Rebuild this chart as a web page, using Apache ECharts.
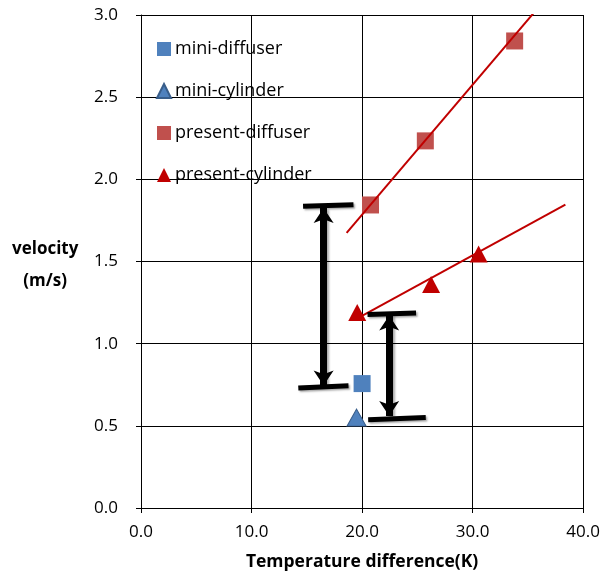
<!DOCTYPE html>
<html><head><meta charset="utf-8">
<script src="https://cdn.jsdelivr.net/npm/echarts@6/dist/echarts.min.js"></script>
<style>html,body{margin:0;padding:0;background:#fff}#c{width:603px;height:576px}</style>
</head><body><div id="c"></div>
<script>
const xTicks = [0, 10, 20, 30, 40];
const yTicks = [0, 0.5, 1.0, 1.5, 2.0, 2.5, 3.0];
const miniDiffuser = [[20.0, 0.757]];
const miniCylinder = [[19.5, 0.55]];
const presentDiffuser = [[20.76, 1.844], [25.72, 2.234], [33.8, 2.842]];
const presentCylinder = [[19.56, 1.19], [26.24, 1.36], [30.54, 1.545]];
const trendDiffuser = [[18.6, 1.674], [35.53, 3.013]];
const trendCylinder = [[20.03, 1.170], [38.39, 1.846]];
// annotation bars (caps) and arrows
const capBars = [
  [[14.66, 1.836], [19.22, 1.846]],
  [[14.23, 0.730], [18.77, 0.744]],
  [[20.49, 1.178], [24.88, 1.187]],
  [[20.55, 0.537], [25.76, 0.551]]
];
const arrows = [
  [[16.52, 1.825], [16.52, 0.745]],
  [[22.45, 1.172], [22.45, 0.560]]
];

const chart = echarts.init(document.getElementById('c'));
const FONT = 'Open Sans';
const shadow = {shadowColor:'rgba(0,0,0,0.35)', shadowBlur:2, shadowOffsetX:1.5, shadowOffsetY:1.5};
const series = [
  {name:'mini-diffuser', type:'scatter', symbol:'rect', symbolSize:17, data:miniDiffuser,
   itemStyle:{color:'#4F81BD', opacity:1}, z:3},
  {name:'mini-cylinder', type:'scatter', symbol:'triangle', symbolSize:[19,17], data:miniCylinder,
   itemStyle:{color:'#4F81BD', borderColor:'#385D8A', borderWidth:1, opacity:1}, z:3},
  {name:'present-diffuser', type:'scatter', symbol:'rect', symbolSize:17, data:presentDiffuser,
   itemStyle:{color:'#C0504D', opacity:1}, z:3},
  {name:'present-cylinder', type:'scatter', symbol:'triangle', symbolSize:[18,17], data:presentCylinder,
   itemStyle:{color:'#C00000', opacity:1}, z:3},
  {type:'line', data:trendDiffuser, symbol:'none', silent:true, z:4,
   lineStyle:{color:'#C00000', width:2}},
  {type:'line', data:trendCylinder, symbol:'none', silent:true, z:4,
   lineStyle:{color:'#C00000', width:2}}
];
capBars.forEach(b => series.push({type:'line', data:b, symbol:'none', silent:true, z:5,
  lineStyle:Object.assign({color:'#000', width:5}, shadow)}));
series.push({type:'line', data:[], silent:true, z:5,
  markLine:{silent:true, symbol:['arrow','arrow'], symbolSize:[15,15], label:{show:false},
    lineStyle:Object.assign({color:'#000', width:7, type:'solid'}, shadow),
    emphasis:{disabled:true},
    data: arrows.map(a => [{coord:a[0]}, {coord:a[1]}])}});

chart.setOption({
  animation:false,
  textStyle:{fontFamily:FONT},
  grid:{left:141, right:19, top:15, bottom:68},
  legend:{orient:'vertical', left:156, top:40, padding:0, itemGap:24, itemWidth:14, itemHeight:14,
    textStyle:{fontFamily:FONT, fontSize:18, color:'#000', padding:[0,0,0,-1]},
    data:[{name:'mini-diffuser', icon:'rect'},{name:'mini-cylinder', icon:'triangle'},
          {name:'present-diffuser', icon:'rect'},{name:'present-cylinder', icon:'triangle'}]},
  xAxis:{type:'value', min:xTicks[0], max:xTicks[xTicks.length-1], interval:10,
    axisLine:{lineStyle:{color:'#000', width:1}},
    axisTick:{show:true, length:5, lineStyle:{color:'#000'}},
    splitLine:{show:true, lineStyle:{color:'#000', width:1}},
    axisLabel:{color:'#000', fontSize:17, margin:16, formatter:v=>v.toFixed(1)},
    name:'Temperature difference(K)', nameLocation:'middle', nameGap:45,
    nameTextStyle:{color:'#000', fontSize:17.5, fontWeight:'bold', fontFamily:FONT}},
  yAxis:{type:'value', min:yTicks[0], max:yTicks[yTicks.length-1], interval:0.5,
    axisLine:{show:true, lineStyle:{color:'#000', width:1}},
    axisTick:{show:true, length:5, lineStyle:{color:'#000'}},
    splitLine:{show:true, lineStyle:{color:'#000', width:1}},
    axisLabel:{color:'#000', fontSize:17, margin:23, formatter:v=>v.toFixed(1)}},
  graphic:[{type:'text', left:12, top:233,
    style:{text:'velocity\n(m/s)', fontFamily:FONT, fontSize:17, fontWeight:'bold', fill:'#000',
      textAlign:'center', lineHeight:32}}],
  series:series
});
</script></body></html>
